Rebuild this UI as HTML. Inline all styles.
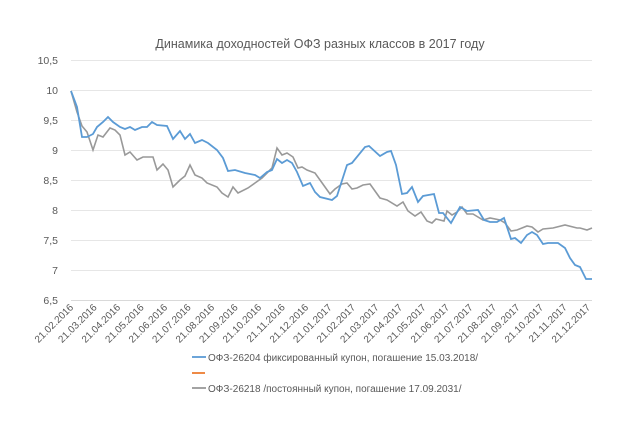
<!DOCTYPE html>
<html><head><meta charset="utf-8"><style>
body{margin:0;background:#fff;}
svg{display:block;font-family:"Liberation Sans",sans-serif;}
</style></head><body>
<svg width="640" height="422" viewBox="0 0 640 422">
<rect width="640" height="422" fill="#fff"/>
<text x="320" y="48" text-anchor="middle" font-size="12.5" fill="#595959">Динамика доходностей ОФЗ разных классов в 2017 году</text>
<g stroke="#e6e6e6" stroke-width="1">
<line x1="71" x2="592" y1="60.5" y2="60.5"/><line x1="71" x2="592" y1="90.5" y2="90.5"/>
<line x1="71" x2="592" y1="120.5" y2="120.5"/><line x1="71" x2="592" y1="150.5" y2="150.5"/>
<line x1="71" x2="592" y1="180.5" y2="180.5"/><line x1="71" x2="592" y1="210.5" y2="210.5"/>
<line x1="71" x2="592" y1="240.5" y2="240.5"/><line x1="71" x2="592" y1="270.5" y2="270.5"/>
</g>
<line x1="71" x2="592" y1="300.5" y2="300.5" stroke="#d9d9d9"/>
<g font-size="10.5" fill="#595959" text-anchor="end">
<text x="58" y="64">10,5</text><text x="58" y="94">10</text><text x="58" y="124">9,5</text>
<text x="58" y="154">9</text><text x="58" y="184">8,5</text><text x="58" y="214">8</text>
<text x="58" y="244">7,5</text><text x="58" y="274">7</text><text x="58" y="304">6,5</text>
</g>
<g font-size="10" fill="#595959" text-anchor="end" id="xt"></g>
<polyline fill="none" stroke="#999" stroke-width="1.6" points="71,91 77,112 82,126 87,132 93,150 98,135 103,137 110,128 115,130 120,135 125,155 130,152 137,160 143,157 153,157 157,170 163,164 168,170 173,187 180,180 185,176 190,165 195,175 202,178 207,183 217,187 222,193 228,197 233,187 238,193 248,188 255,183 262,178 267,173 272,168 277,148 282,155 287,153 293,157 298,168 302,167 307,170 315,173 320,180 330,194 335,189 342,184 347,183 352,189 357,188 363,185 370,184 380,198 387,200 397,206 403,202 408,211 415,216 421,212 427,221 432,223 436,219 444,221 447,211 452,215 457,212 462,207 467,214 473,214 483,220 490,218 500,220 505,223 511,231 517,230 527,226 532,227 538,232 543,229 553,228 565,225 577,228 580,228 587,230 592,228"/>
<polyline fill="none" stroke="#5b9bd5" stroke-width="1.8" points="71,91 77,107 82,137 87,137 93,134 97,127 103,122 108,117 113,122 120,127 125,129 130,127 135,130 142,127 147,127 152,122 157,125 167,126 173,139 180,131 185,139 190,134 195,143 202,140 208,143 217,150 223,158 228,171 235,170 245,173 255,175 260,178 267,172 272,170 277,159 282,163 287,160 292,163 297,172 303,186 310,183 315,192 320,197 332,200 337,196 347,165 352,163 365,147 369,146 380,156 387,152 391,151 396,165 402,194 407,193 412,187 418,202 423,196 434,194 439,213 443,213 451,223 460,207 467,211 478,210 484,220 490,222 497,222 504,218 511,239 515,238 521,243 527,235 532,232 537,235 543,244 548,243 558,243 565,248 570,258 575,265 580,267 586,279 592,279"/>
<line x1="192" x2="206" y1="357" y2="357" stroke="#5b9bd5" stroke-width="1.8"/>
<text x="208" y="361" font-size="10" fill="#595959">ОФЗ-26204 фиксированный купон, погашение 15.03.2018/</text>
<line x1="192" x2="205" y1="373" y2="373" stroke="#ed7d31" stroke-width="1.8"/>
<line x1="192" x2="206" y1="388" y2="388" stroke="#999" stroke-width="1.8"/>
<text x="208" y="392" font-size="10" fill="#595959">ОФЗ-26218 /постоянный купон, погашение 17.09.2031/</text>
<g font-size="10" fill="#595959" text-anchor="end">
<text transform="translate(74,308) rotate(-45)">21.02.2016</text>
<text transform="translate(97.5,308) rotate(-45)">21.03.2016</text>
<text transform="translate(121,308) rotate(-45)">21.04.2016</text>
<text transform="translate(144.5,308) rotate(-45)">21.05.2016</text>
<text transform="translate(168,308) rotate(-45)">21.06.2016</text>
<text transform="translate(191.5,308) rotate(-45)">21.07.2016</text>
<text transform="translate(215,308) rotate(-45)">21.08.2016</text>
<text transform="translate(238.5,308) rotate(-45)">21.09.2016</text>
<text transform="translate(262,308) rotate(-45)">21.10.2016</text>
<text transform="translate(285.5,308) rotate(-45)">21.11.2016</text>
<text transform="translate(309,308) rotate(-45)">21.12.2016</text>
<text transform="translate(332.5,308) rotate(-45)">21.01.2017</text>
<text transform="translate(356,308) rotate(-45)">21.02.2017</text>
<text transform="translate(379.5,308) rotate(-45)">21.03.2017</text>
<text transform="translate(403,308) rotate(-45)">21.04.2017</text>
<text transform="translate(426.5,308) rotate(-45)">21.05.2017</text>
<text transform="translate(450,308) rotate(-45)">21.06.2017</text>
<text transform="translate(473.5,308) rotate(-45)">21.07.2017</text>
<text transform="translate(497,308) rotate(-45)">21.08.2017</text>
<text transform="translate(520.5,308) rotate(-45)">21.09.2017</text>
<text transform="translate(544,308) rotate(-45)">21.10.2017</text>
<text transform="translate(567.5,308) rotate(-45)">21.11.2017</text>
<text transform="translate(591,308) rotate(-45)">21.12.2017</text>
</g>
</svg>
</body></html>
